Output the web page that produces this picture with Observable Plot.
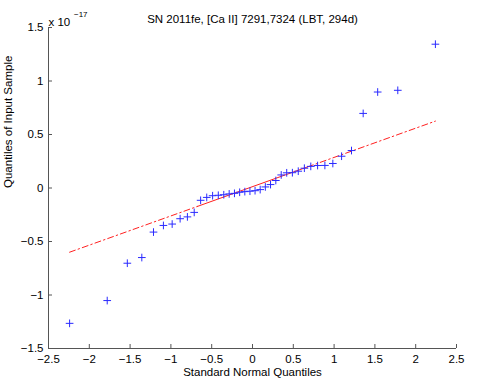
<!DOCTYPE html>
<html>
<head>
<meta charset="utf-8">
<script src="https://cdn.jsdelivr.net/npm/d3@7"></script>
<script src="https://cdn.jsdelivr.net/npm/@observablehq/plot@0.6"></script>
<style>
  html, body { margin: 0; padding: 0; background: #fff; }
  #chart { width: 480px; height: 385px; }
</style>
</head>
<body>
<div id="chart"></div>
<script>
// Title and labels
const title = "SN 2011fe, [Ca II] 7291,7324 (LBT, 294d)";
const xLabel = "Standard Normal Quantiles";
const yLabel = "Quantiles of Input Sample";
const expBase = "x 10";
const expPow = "\u221217";

// Tick values
const xTicks = [-2.5, -2, -1.5, -1, -0.5, 0, 0.5, 1, 1.5, 2, 2.5];
const yTicks = [-1.5, -1, -0.5, 0, 0.5, 1, 1.5];

// Standard normal quantiles (x) of the 40 samples
const normalQuantiles = [-2.2414, -1.7805, -1.5341, -1.3563, -1.2133, -1.0918, -0.9845, -0.8871, -0.7978, -0.7144,
  -0.6356, -0.5607, -0.4888, -0.4193, -0.3518, -0.2858, -0.2211, -0.1573, -0.0941, -0.0313,
  0.0313, 0.0941, 0.1573, 0.2211, 0.2858, 0.3518, 0.4193, 0.4888, 0.5607, 0.6356,
  0.7144, 0.7978, 0.8871, 0.9845, 1.0918, 1.2133, 1.3563, 1.5341, 1.7805, 2.2414];

// Sorted sample quantiles (units of 1e-17)
const sampleQuantiles = [-1.265, -1.052, -0.703, -0.650, -0.412, -0.350, -0.337, -0.287, -0.270, -0.228,
  -0.115, -0.088, -0.072, -0.068, -0.063, -0.055, -0.050, -0.040, -0.034, -0.030,
  -0.025, -0.015, 0.010, 0.032, 0.070, 0.122, 0.142, 0.143, 0.157, 0.185,
  0.202, 0.210, 0.211, 0.229, 0.297, 0.350, 0.697, 0.897, 0.913, 1.344];

// Reference line: solid between quartiles, dash-dot extensions
const refSolidX = [-0.6745, 0.6745];
const refSolidY = [-0.172, 0.197];
const refLeftX = [-2.2414, -0.6745];
const refLeftY = [-0.600, -0.172];
const refRightX = [0.6745, 2.2414];
const refRightY = [0.197, 0.625];

const pts = normalQuantiles.map((x, i) => ({x, y: sampleQuantiles[i]}));
const seg = (xs, ys) => xs.map((x, i) => ({x, y: ys[i]}));

const fmt = d => String(d).replace("-", "\u2212");
const axisColor = "#555";
const fs = 11.5;

const plot = Plot.plot({
  width: 480,
  height: 385,
  marginLeft: 48,
  marginRight: 24,
  marginTop: 27,
  marginBottom: 37,
  style: {fontFamily: "'Liberation Sans', Arial, Helvetica, sans-serif", fontSize: "11.5px", background: "#fff", color: "#000"},
  x: {domain: [-2.5, 2.5]},
  y: {domain: [-1.5, 1.5]},
  marks: [
    Plot.axisX(xTicks, {anchor: "bottom", tickSize: 0, tickPadding: 6.5, tickFormat: fmt, label: null, fontSize: fs, fill: "#000"}),
    Plot.axisY(yTicks, {anchor: "left", tickSize: 0, tickPadding: 5, tickFormat: fmt, label: null, fontSize: fs, fill: "#000"}),
    Plot.ruleX([-2.5], {stroke: axisColor}),
    Plot.ruleY([-1.5], {stroke: axisColor}),
    Plot.tickX(xTicks, {x: d => d, insetTop: 317, stroke: axisColor}),
    Plot.tickY(yTicks, {y: d => d, insetRight: 404, stroke: axisColor}),
    Plot.line(seg(refLeftX, refLeftY), {x: "x", y: "y", stroke: "#ff2020", strokeWidth: 1, strokeDasharray: "6,3,1.5,3"}),
    Plot.line(seg(refSolidX, refSolidY), {x: "x", y: "y", stroke: "#ff2020", strokeWidth: 1}),
    Plot.line(seg(refRightX, refRightY), {x: "x", y: "y", stroke: "#ff2020", strokeWidth: 1, strokeDasharray: "6,3,1.5,3"}),
    Plot.dot(pts, {x: "x", y: "y", symbol: "plus", r: 2.6, stroke: "#2a2aff", strokeWidth: 1}),
    Plot.text([title], {text: d => d, frameAnchor: "top", dy: -13, fontSize: fs, fill: "#000"}),
    Plot.text([xLabel], {text: d => d, frameAnchor: "bottom", dy: 27.5, fontSize: fs, fill: "#000"}),
    Plot.text([yLabel], {text: d => d, frameAnchor: "left", dx: -40, rotate: -90, fontSize: fs, fill: "#000"}),
    Plot.text([expBase], {text: d => d, frameAnchor: "top-left", textAnchor: "start", dy: -10, fontSize: fs, fill: "#000"}),
    Plot.text([expPow], {text: d => d, frameAnchor: "top-left", textAnchor: "start", dx: 25.5, dy: -16, fontSize: 8, fill: "#000"})
  ]
});
document.getElementById("chart").appendChild(plot);
</script>
</body>
</html>
